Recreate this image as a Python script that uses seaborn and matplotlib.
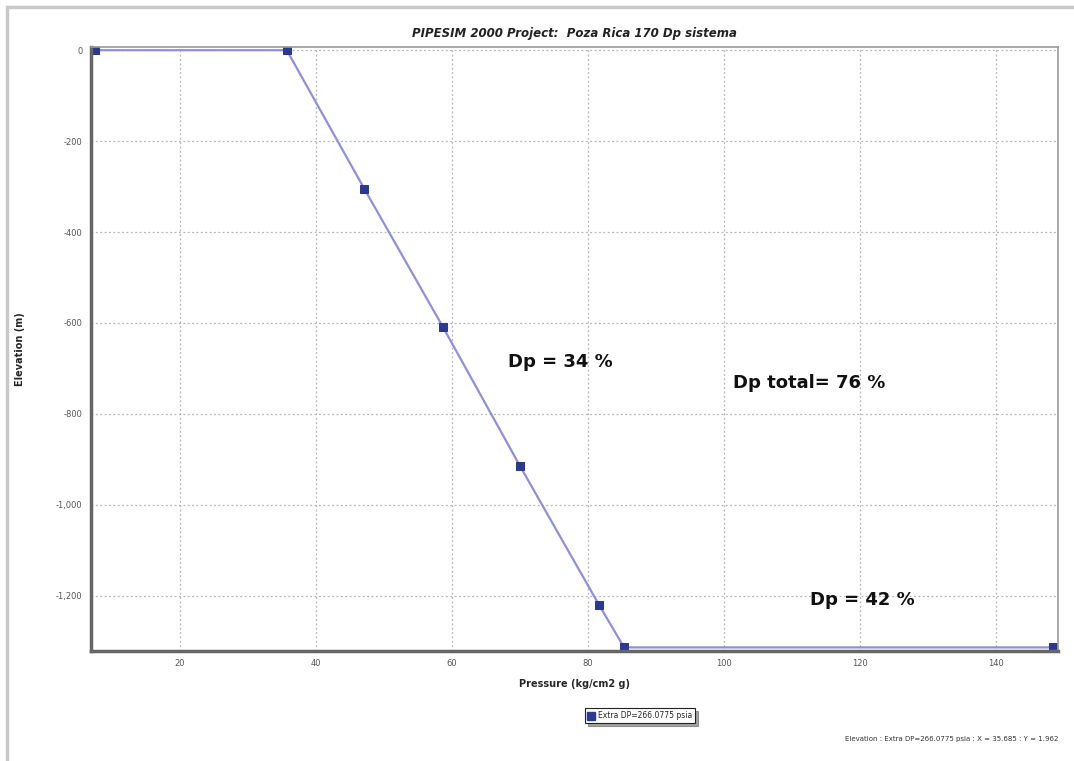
import matplotlib
matplotlib.use("Agg")
import matplotlib.pyplot as plt
import seaborn as sns
import pandas as pd
from matplotlib.patches import Rectangle
from matplotlib.lines import Line2D

pressure = [7.5, 35.7, 47.1, 58.7, 70.0, 81.6, 85.3, 148.4]
elevation = [0, 0, -305, -610, -915, -1220, -1314, -1314]
series_name = "Extra DP=266.0775 psia"
x_ticks = [20, 40, 60, 80, 100, 120, 140]
y_ticks = [0, -200, -400, -600, -800, -1000, -1200]
y_tick_labels = ["0", "-200", "-400", "-600", "-800", "-1,000", "-1,200"]
annotations = [("Dp = 34 %", 76.0, -686), ("Dp total= 76 %", 112.5, -733), ("Dp = 42 %", 120.4, -1210)]

df = pd.DataFrame({"Pressure": pressure, "Elevation": elevation})

sns.set_style("white")
plt.rcParams['font.family'] = ['DejaVu Sans']

fig = plt.figure(figsize=(10.74, 7.61), dpi=100)
ax = fig.add_axes([0.0847, 0.1445, 0.9003, 0.7937])

line_col = "#8f8fdc"
mark_col = "#2b3a8f"
sns.lineplot(data=df, x="Pressure", y="Elevation", ax=ax, color=line_col, lw=1.6,
             marker="s", markersize=5.5, markerfacecolor=mark_col, markeredgecolor=mark_col,
             sort=False, legend=False)

ax.set_xlim(6.9, 149.1)
ax.set_ylim(-1322, 7)
ax.set_xticks(x_ticks)
ax.set_xticklabels([str(t) for t in x_ticks], fontsize=6, color="#555555")
ax.set_yticks(y_ticks)
ax.set_yticklabels(y_tick_labels, fontsize=6, color="#555555")
ax.tick_params(axis="both", length=0, pad=6)
ax.grid(True, ls=(0, (1.5, 2)), color="#b5b5b5", lw=0.9)

for side in ["left", "bottom"]:
    ax.spines[side].set_color("#666666")
    ax.spines[side].set_linewidth(2.5)
for side in ["top", "right"]:
    ax.spines[side].set_color("#999999")
    ax.spines[side].set_linewidth(1.2)

ax.set_xlabel("Pressure (kg/cm2 g)", fontsize=7, fontweight="bold", labelpad=8)
ax.set_ylabel("Elevation (m)", fontsize=7, fontweight="bold", labelpad=22)
ax.set_title("PIPESIM 2000 Project:  Poza Rica 170 Dp sistema", fontsize=8.5,
             fontweight="bold", style="italic", pad=7, color="#222222")

for txt, x, y in annotations:
    ax.text(x, y, txt, fontsize=13, fontweight="bold", color="#111111",
            ha="center", va="center")

# legend box
handle = Line2D([], [], color=mark_col, marker="s", ls="", markersize=6)
leg = fig.legend([handle], [series_name], loc="center", bbox_to_anchor=(0.596, 0.0595),
                 fontsize=5.5, frameon=True, fancybox=False, shadow=True,
                 handlelength=0.8, handletextpad=0.5, borderpad=0.4)
leg.get_frame().set_edgecolor("#222222")
leg.get_frame().set_linewidth(0.8)

fig.text(0.985, 0.029, "Elevation : Extra DP=266.0775 psia : X = 35.685 : Y = 1.962",
         fontsize=5, ha="right", va="center", color="#333333")

# outer light frame
fig.patches.append(Rectangle((0.0065, -0.01), 1.0, 1.0 - 0.0092 + 0.01, transform=fig.transFigure,
                             fill=False, edgecolor="#c8c8c8", lw=2.5))

fig.savefig("out.png", dpi=100)
